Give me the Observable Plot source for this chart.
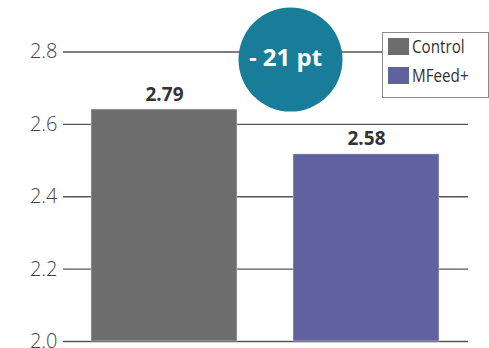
<!DOCTYPE html>
<html>
<head>
<meta charset="utf-8">
<script src="https://cdn.jsdelivr.net/npm/d3@7"></script>
<script src="https://cdn.jsdelivr.net/npm/@observablehq/plot@0.6"></script>
<style>
  html, body { margin: 0; padding: 0; background: #fff; }
  #wrap { position: relative; width: 489px; height: 348px; font-family: "Open Sans", sans-serif; overflow: hidden; }
  #legend { position: absolute; left: 382px; top: 32px; width: 107px; height: 66px; border: 1px solid #8a8a8a; background: #fff; box-sizing: border-box; }
  .sw { position: absolute; left: 5px; width: 21px; height: 17px; }
  .lt { position: absolute; left: 29px; font-family: "Open Sans", sans-serif; font-size: 19px; color: #333; line-height: 19px; transform: scaleX(0.8); transform-origin: left center; white-space: nowrap; }
</style>
</head>
<body>
<div id="wrap"></div>
<script>
const categories = ["Control", "MFeed+"];
const barValues = [2.641, 2.517];
const barLabels = ["2.79", "2.58"];
const colors = ["#6d6d6e", "#6062a0"];
const yTicks = [2.0, 2.2, 2.4, 2.6, 2.8];
const annotationText = ["- 21 pt"];
const annotationY = [2.779];

const bars = categories.map((c, i) => ({cat: c, value: barValues[i], label: barLabels[i], color: colors[i]}));
const ann = annotationText.map((t, i) => ({cat: "MFeed+", y: annotationY[i], text: t}));

const chart = Plot.plot({
  width: 489,
  height: 348,
  marginTop: 51.5,
  marginBottom: 7,
  marginLeft: 63,
  marginRight: 21,
  style: {fontFamily: "Open Sans, sans-serif", background: "#fff", overflow: "visible"},
  x: {domain: categories, paddingInner: 0.277, paddingOuter: 0.139, axis: null},
  y: {domain: [2.0, 2.8], ticks: yTicks, axis: null},
  marks: [
    Plot.ruleY(yTicks, {stroke: "#555", strokeWidth: 1.4}),
    Plot.text(yTicks, {x: null, y: d => d, frameAnchor: "left", dx: -6, textAnchor: "end", text: d => d.toFixed(1), fill: "#444", fontSize: 20, fontWeight: 300}),
    Plot.barY(bars, {x: "cat", y1: 2.0, y2: "value", fill: "color", stroke: "#e4e4ee", strokeWidth: 0.5}),
    Plot.text(bars, {x: "cat", y: "value", text: "label", dy: -9, lineAnchor: "bottom", fontWeight: "bold", fontSize: 19, fill: "#333"}),
    Plot.dot(ann, {x: "cat", y: "y", dx: -76, r: 52, fill: "#187d98", stroke: "none"}),
    Plot.text(ann, {x: "cat", y: "y", dx: -81, dy: -1, text: "text", fill: "#fff", fontWeight: "bold", fontSize: 24, lineAnchor: "middle"})
  ]
});

const wrap = document.getElementById("wrap");
wrap.appendChild(chart);

const legend = document.createElement("div");
legend.id = "legend";
const tops = [5, 34];
categories.forEach((c, i) => {
  const sw = document.createElement("div");
  sw.className = "sw";
  sw.style.top = tops[i] + "px";
  sw.style.background = colors[i];
  legend.appendChild(sw);
  const t = document.createElement("div");
  t.className = "lt";
  t.style.top = (tops[i] - 1) + "px";
  t.textContent = c;
  legend.appendChild(t);
});
wrap.appendChild(legend);
</script>
</body>
</html>
